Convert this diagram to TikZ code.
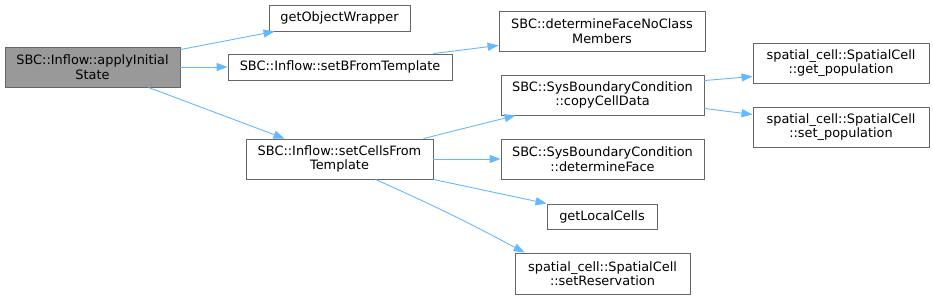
\documentclass[tikz,border=0pt]{standalone}
\usepackage{fontspec}
\setmainfont{DejaVu Sans}
\usetikzlibrary{arrows.meta}
\definecolor{boxline}{HTML}{666666}
\definecolor{rootfill}{HTML}{999999}
\definecolor{calledge}{HTML}{63B8FF}
\begin{document}
\begin{tikzpicture}[x=1pt, y=-1pt,
    >={Triangle[length=11pt,width=8pt]},
    fn/.style={draw=boxline, fill=white, line width=0.9pt, inner sep=0pt,
      align=center, font=\fontsize{12.9}{14.5}\selectfont},
    root/.style={fn, fill=rootfill},
    call/.style={->, draw=calledge, color=calledge, line width=0.9pt}]
    \useasboundingbox (0,0) rectangle (933,299);

    \node[root,minimum width=175pt,minimum height=40pt] (apply) at (92.5,67) {SBC::Inflow::applyInitial\\State};
    \node[fn,minimum width=141pt,minimum height=26pt] (wrap) at (339.5,18) {getObjectWrapper};
    \node[fn,minimum width=224pt,minimum height=26pt] (setB) at (340,67) {SBC::Inflow::setBFromTemplate};
    \node[fn,minimum width=206pt,minimum height=40pt] (noclass) at (602,31) {SBC::determineFaceNoClass\\Members};
    \node[fn,minimum width=187pt,minimum height=40pt] (setCells) at (339.5,159) {SBC::Inflow::setCellsFrom\\Template};
    \node[fn,minimum width=203pt,minimum height=40pt] (copy) at (602.5,95) {SBC::SysBoundaryCondition\\::copyCellData};
    \node[fn,minimum width=176pt,minimum height=40pt] (getpop) at (841,63) {spatial\_cell::SpatialCell\\::get\_population};
    \node[fn,minimum width=176pt,minimum height=40pt] (setpop) at (841,127) {spatial\_cell::SpatialCell\\::set\_population};
    \node[fn,minimum width=203pt,minimum height=40pt] (face) at (602.5,159) {SBC::SysBoundaryCondition\\::determineFace};
    \node[fn,minimum width=110pt,minimum height=25pt] (local) at (602,216.5) {getLocalCells};
    \node[fn,minimum width=175pt,minimum height=41pt] (reserve) at (602.5,273.5) {spatial\_cell::SpatialCell\\::setReservation};

    \draw[call] ([yshift=-3pt]apply.north east) -- ([xshift=6pt]wrap.south west);
    \draw[call] (apply.east) -- (setB.west);
    \draw[call] ([xshift=-32pt]apply.south east) -- ([xshift=39pt]setCells.north west);
    \draw[call] ([xshift=-19pt]setB.north east) -- ([yshift=6pt]noclass.south west);
    \draw[call] ([xshift=-10pt]setCells.north east) -- ([xshift=15pt]copy.south west);
    \draw[call] (setCells.east) -- (face.west);
    \draw[call] (setCells.south east) -- (local.north west);
    \draw[call] ([xshift=36pt]setCells.south) to[bend left=2] ([xshift=10pt]reserve.north west);
    \draw[call] ([yshift=-6pt]copy.north east) -- ([yshift=7pt]getpop.south west);
    \draw[call] ([yshift=7pt]copy.south east) -- ([yshift=-8pt]setpop.north west);
\end{tikzpicture}
\end{document}
